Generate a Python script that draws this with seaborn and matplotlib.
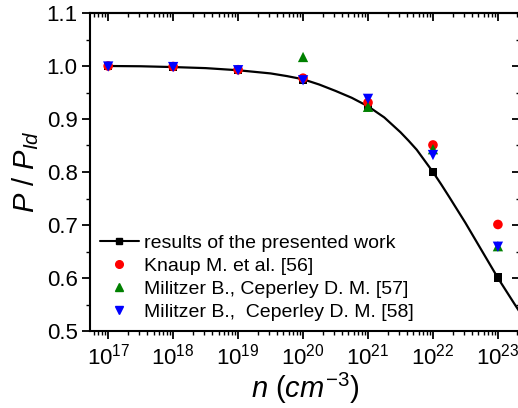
import numpy as np
import pandas as pd
import matplotlib
matplotlib.use('Agg')
import matplotlib.pyplot as plt
import matplotlib.ticker as mticker
from matplotlib.lines import Line2D
import seaborn as sns

sns.set_style('ticks')
plt.rcParams['font.family'] = ['Liberation Sans', 'DejaVu Sans']
plt.rcParams['mathtext.fontset'] = 'custom'
plt.rcParams['mathtext.rm'] = 'Liberation Sans'
plt.rcParams['mathtext.it'] = 'Liberation Sans:italic'
plt.rcParams['axes.edgecolor'] = 'black'
plt.rcParams['xtick.color'] = 'black'
plt.rcParams['ytick.color'] = 'black'
plt.rcParams['text.color'] = 'black'
plt.rcParams['axes.labelcolor'] = 'black'

# 计算曲线 (读图得到的点, log10 n)
curve_logn = [17, 17.5, 18, 18.5, 19, 19.25, 19.5, 19.75, 20, 20.25, 20.5, 20.75,
              21, 21.25, 21.5, 21.625, 21.75, 21.875, 22, 22.125, 22.25, 22.5,
              22.75, 23, 23.25, 23.5]
curve_p = [1.000, 0.9995, 0.998, 0.996, 0.992, 0.989, 0.986, 0.981, 0.975, 0.965,
           0.953, 0.940, 0.924, 0.903, 0.875, 0.859, 0.842, 0.821, 0.800, 0.777,
           0.753, 0.704, 0.652, 0.600, 0.552, 0.505]

# 本文结果 (方块)
work_n = [1e17, 1e18, 1e19, 1e20, 1e21, 1e22, 1e23]
work_p = [1.000, 0.998, 0.992, 0.974, 0.924, 0.800, 0.601]

# Knaup M. et al. [56]
knaup_n = [1e17, 1e18, 1e19, 1e20, 1e21, 1e22, 1e23]
knaup_p = [1.000, 0.999, 0.993, 0.977, 0.931, 0.851, 0.701]

# Militzer B., Ceperley D. M. [57]
mil57_n = [1e20, 1e21, 1e22, 1e23]
mil57_p = [1.017, 0.923, 0.843, 0.660]

# Militzer B., Ceperley D. M. [58]
mil58_n = [1e17, 1e18, 1e19, 1e20, 1e21, 1e22, 1e23]
mil58_p = [0.999, 0.998, 0.992, 0.973, 0.938, 0.832, 0.659]

labels = ['results of the presented work',
          'Knaup M. et al. [56]',
          'Militzer B., Ceperley D. M. [57]',
          'Militzer B.,  Ceperley D. M. [58]']

x_ticks = [1e17, 1e18, 1e19, 1e20, 1e21, 1e22, 1e23]
y_ticks = [0.5, 0.6, 0.7, 0.8, 0.9, 1.0, 1.1]

fig = plt.figure(figsize=(5.18, 4.08), dpi=100)
ax = fig.add_axes([90 / 518, 77 / 408, 430 / 518, 318 / 408])

curve = pd.DataFrame({'n': 10.0 ** np.array(curve_logn), 'p': curve_p})
sns.lineplot(data=curve, x='n', y='p', color='black', lw=1.6, ax=ax, legend=False)
sns.scatterplot(x=work_n, y=work_p, marker='s', color='black', s=34,
                edgecolor='none', ax=ax, zorder=3)
sns.scatterplot(x=knaup_n, y=knaup_p, marker='o', color='red', s=48,
                edgecolor='none', ax=ax, zorder=4)
sns.scatterplot(x=mil57_n, y=mil57_p, marker='^', color='green', s=55,
                edgecolor='none', ax=ax, zorder=5)
sns.scatterplot(x=mil58_n, y=mil58_p, marker='v', color='blue', s=55,
                edgecolor='none', ax=ax, zorder=6)

minor_x = mticker.LogLocator(base=10, subs=np.arange(2, 10), numticks=20)

ax.set_xscale('log')
ax.set_xlim(10 ** 16.72, 10 ** 23.34)
ax.set_ylim(0.5, 1.1)
ax.set_xticks(x_ticks)
ax.set_yticks(y_ticks)
ax.yaxis.set_major_formatter(mticker.FormatStrFormatter('%.1f'))
ax.yaxis.set_minor_locator(mticker.MultipleLocator(0.05))
ax.xaxis.set_minor_locator(minor_x)
ax.xaxis.set_minor_formatter(mticker.NullFormatter())

for sp in ax.spines.values():
    sp.set_visible(True)
    sp.set_linewidth(1.5)
ax.tick_params(which='major', direction='out', length=6, width=1.3, labelsize=16, pad=3)
ax.tick_params(which='minor', direction='out', length=3, width=1.0)

# 上/右 镜像刻度向内
top = ax.secondary_xaxis('top')
top.set_xticks(x_ticks)
top.xaxis.set_minor_locator(mticker.LogLocator(base=10, subs=np.arange(2, 10), numticks=20))
top.tick_params(which='major', direction='in', length=6, width=1.3, labeltop=False)
top.tick_params(which='minor', direction='in', length=3, width=1.0)
top.spines['top'].set_linewidth(1.5)
right = ax.secondary_yaxis('right')
right.set_yticks(y_ticks)
right.yaxis.set_minor_locator(mticker.MultipleLocator(0.05))
right.tick_params(which='major', direction='in', length=6, width=1.3, labelright=False)
right.tick_params(which='minor', direction='in', length=3, width=1.0)

ax.set_xlabel(r'$n\ (cm^{-3})$', fontsize=21, labelpad=1)
ax.set_ylabel(r'$P\ /\ P_{Id}$', fontsize=21, labelpad=4)

handles = [
    Line2D([], [], color='black', lw=1.5, marker='s', markersize=4.5),
    Line2D([], [], ls='none', marker='o', color='red', markersize=5.5),
    Line2D([], [], ls='none', marker='^', color='green', markersize=6),
    Line2D([], [], ls='none', marker='v', color='blue', markersize=6),
]
ax.legend(handles, labels, loc='lower left', bbox_to_anchor=(0.0, 0.0),
          frameon=False, fontsize=14, handlelength=2.0, handletextpad=0.3,
          labelspacing=0.28, borderaxespad=0.2, borderpad=0.3)

fig.savefig('out.png', dpi=100)
